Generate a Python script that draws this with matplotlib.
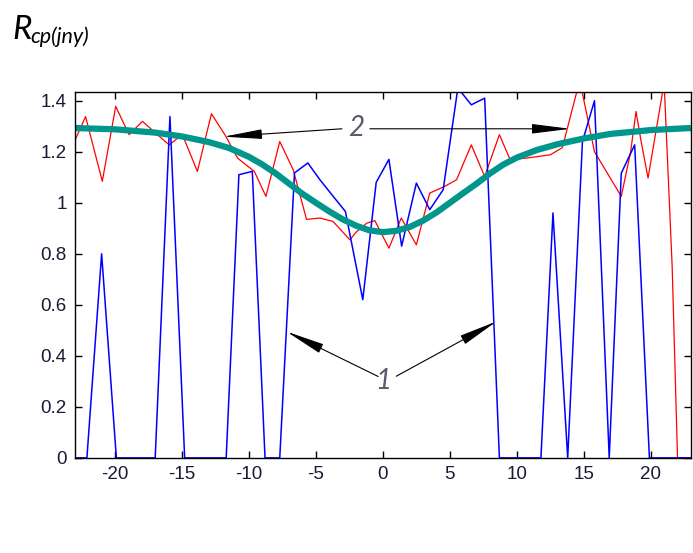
import matplotlib.pyplot as plt

plt.rcParams['font.family'] = 'Liberation Sans'

# red curve
red_x = [-23.2, -22.2, -20.95, -19.95, -18.95, -17.95, -16.96, -15.96, -14.97, -13.85,
         -12.8, -11.72, -10.85, -9.6, -8.73, -7.7, -6.7, -5.7, -4.7, -3.73,
         -2.46, -1.96, -1.2, -0.6, 0.45, 1.37, 2.5, 3.5, 4.6, 5.5,
         6.6, 7.6, 8.7, 9.5, 10.7, 12.5, 13.4, 14.7, 15.8, 17.8,
         18.5, 18.9, 19.3, 19.8, 21.0, 21.6, 22.0, 23.2]
red_y = [1.22, 1.338, 1.084, 1.378, 1.267, 1.319, 1.273, 1.227, 1.267, 1.123,
         1.349, 1.26, 1.175, 1.123, 1.025, 1.24, 1.13, 0.935, 0.94, 0.927,
         0.855, 0.887, 0.92, 0.93, 0.822, 0.94, 0.835, 1.038, 1.064, 1.09,
         1.227, 1.103, 1.267, 1.169, 1.175, 1.188, 1.216, 1.48, 1.2, 1.025,
         1.2, 1.358, 1.235, 1.097, 1.47, 0.75, 0.0, 0.0]

# blue curve
blue_x = [-23.2, -22.1, -21.0, -19.9, -17.0, -15.9, -14.8, -11.7, -10.75, -9.75,
          -8.8, -7.7, -6.6, -5.6, -4.7, -3.6, -2.8, -1.5, -0.5, 0.45,
          1.4, 2.5, 3.5, 4.5, 5.6, 6.6, 7.6, 8.7, 11.8, 12.7,
          13.8, 14.9, 15.8, 16.9, 17.8, 18.8, 19.9, 23.2]
blue_y = [0.0, 0.0, 0.80, 0.0, 0.0, 1.338, 0.0, 0.0, 1.11, 1.123,
          0.0, 0.0, 1.117, 1.156, 1.09, 1.018, 0.966, 0.62, 1.08, 1.17,
          0.83, 1.077, 0.973, 1.051, 1.45, 1.384, 1.41, 0.0, 0.0, 0.96,
          0.0, 1.24, 1.4, 0.0, 1.116, 1.227, 0.0, 0.0]

# smooth teal curve
green_x = [-23, -20, -17, -15, -13, -11.5, -10, -9, -8, -7, -6, -5, -4, -3, -2, -1, 0,
           1, 2, 3, 4, 5, 6, 7, 8, 9, 10, 11.5, 13, 15, 17, 20, 23]
green_y = [1.293, 1.288, 1.275, 1.26, 1.238, 1.215, 1.18, 1.15, 1.115, 1.075, 1.035,
           1.0, 0.966, 0.935, 0.91, 0.892, 0.885, 0.89, 0.905, 0.93, 0.962, 1.0,
           1.038, 1.075, 1.115, 1.15, 1.177, 1.207, 1.229, 1.252, 1.27, 1.285, 1.293]

xticks = [-20, -15, -10, -5, 0, 5, 10, 15, 20]
yticks = [0, 0.2, 0.4, 0.6, 0.8, 1.0, 1.2, 1.4]
ytick_labels = ['0', '0.2', '0.4', '0.6', '0.8', '1', '1.2', '1.4']

fig = plt.figure(figsize=(6.93, 5.53), dpi=100)
ax = fig.add_axes([0.108, 0.172, 0.889, 0.662])

ax.plot(red_x, red_y, color='#ff0000', lw=0.9)
ax.plot(blue_x, blue_y, color='#0000ff', lw=1.1)
ax.plot(green_x, green_y, color='#00968c', lw=4.5, solid_capstyle='butt')

ax.set_xlim(-23, 23)
ax.set_ylim(0, 1.435)
ax.set_xticks(xticks)
ax.set_xticklabels([str(t) for t in xticks])
ax.set_yticks(yticks)
ax.set_yticklabels(ytick_labels)
ax.tick_params(direction='in', length=5, width=1, top=True, right=True,
               labelsize=13.5, labelcolor='#1a1a33', pad=6)
for sp in ax.spines.values():
    sp.set_linewidth(1)

arrow = dict(arrowstyle='-|>,head_length=1.2,head_width=0.15', color='k',
             lw=0.8, shrinkA=0, shrinkB=0, mutation_scale=20)
lbl = dict(fontsize=20, style='italic', color='#5a5a6a', family='Lato',
           ha='center', va='center')

# label 2
ax.text(-1.96, 1.293, '2', **lbl)
ax.annotate('', xy=(-11.9, 1.259), xytext=(-3.06, 1.29), arrowprops=arrow)
ax.annotate('', xy=(14.0, 1.29), xytext=(-0.97, 1.29), arrowprops=arrow)

# label 1
ax.text(0.0, 0.30, '1', **lbl)
ax.annotate('', xy=(-7.19, 0.495), xytext=(-0.35, 0.319), arrowprops=arrow)
ax.annotate('', xy=(8.49, 0.535), xytext=(1.0, 0.32), arrowprops=arrow)

fig.text(12 / 693, 1 - 39 / 553, 'R', fontsize=24, style='italic',
         family='Lato', va='baseline')
fig.text(30 / 693, 1 - 43 / 553, 'cp(jny)', fontsize=15.5, style='italic',
         family='Lato', va='baseline')

fig.savefig('out.png', dpi=100)
